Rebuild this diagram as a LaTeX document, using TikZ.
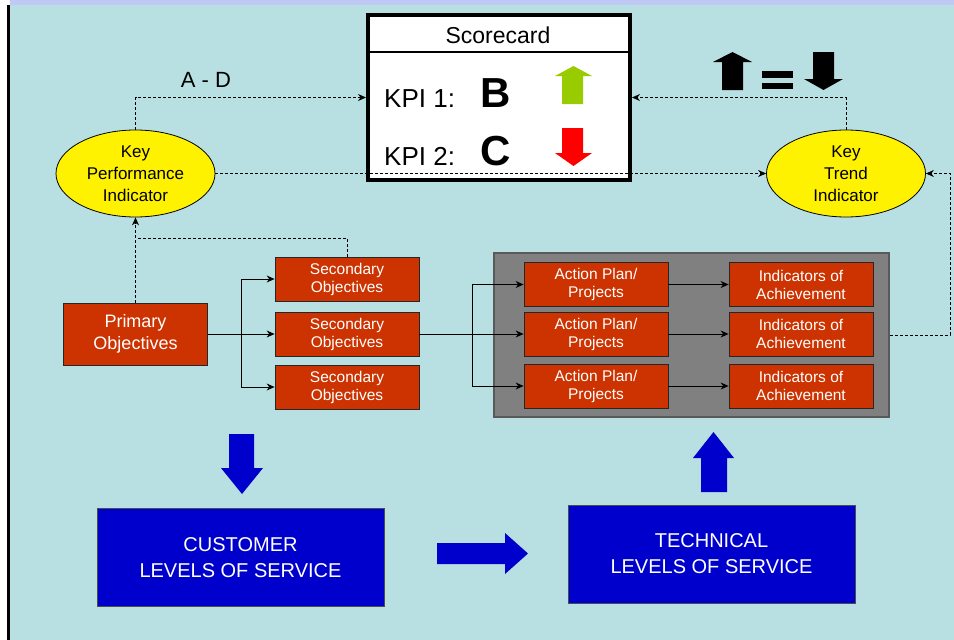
\documentclass[tikz,border=0pt]{standalone}
\usepackage{fontspec}
\setmainfont{Liberation Sans}
\usetikzlibrary{shapes.geometric, arrows.meta}
\definecolor{bgblue}{HTML}{B8E0E2}
\definecolor{topband}{HTML}{C0C8F5}
\definecolor{objred}{HTML}{CC3300}
\definecolor{losblue}{HTML}{0000CC}
\definecolor{upgreen}{HTML}{99CC00}
\definecolor{plangrey}{HTML}{808080}
\begin{document}
\begin{tikzpicture}[x=1pt, y=-1pt, >={Stealth[length=8pt, width=7pt]},
    redbox/.style={draw=black!85, line width=0.8pt, fill=objred, text=white,
      minimum width=144pt, minimum height=44pt, inner sep=0pt, align=center,
      font=\fontsize{15.5}{18}\selectfont},
    bluebox/.style={draw=black!70, line width=0.8pt, fill=losblue, text=white,
      minimum width=287pt, minimum height=98pt, inner sep=0pt, align=center,
      font=\fontsize{20}{26}\selectfont},
    indic/.style={ellipse, draw=black, line width=0.8pt, fill=yellow,
      minimum width=159pt, minimum height=87pt, inner sep=0pt, align=center,
      font=\fontsize{17}{22}\selectfont},
    link/.style={densely dashed, line width=0.8pt},
    flow/.style={line width=0.8pt}]
  \useasboundingbox (0,0) rectangle (954,640);
  % Page
  \fill[bgblue] (10,5) rectangle (954,640);
  \fill[topband] (10,0) rectangle (954,5);
  \fill[black] (7,5) rectangle (10,640);
  % Scorecard
  \node[draw, line width=4pt, fill=white, minimum width=262pt, minimum height=165pt] (card) at (499,97.5) {};
  \draw[line width=1.2pt] (card.west |- 0,52) -- (card.east |- 0,52);
  \node[font=\fontsize{23}{23}\selectfont] (cardtitle) at (498,35) {Scorecard};
  \node[anchor=base west, inner sep=0pt, font=\fontsize{26}{26}\selectfont] (kpione) at (384,107) {KPI 1:};
  \node[anchor=base west, inner sep=0pt, font=\fontsize{26}{26}\selectfont] (kpitwo) at (384,165) {KPI 2:};
  \node[anchor=base, inner sep=0pt, font=\fontsize{42}{42}\bfseries] (gradeb) at (496,107) {B};
  \node[anchor=base, inner sep=0pt, font=\fontsize{42}{42}\bfseries] (gradec) at (496,165) {C};
  \fill[upgreen] (562,104) -- (562,76) -- (555,76) -- (573.5,66) -- (592,76) -- (583,76) -- (583,104) -- cycle;
  \fill[red] (562,128) -- (583,128) -- (583,153) -- (592,153) -- (573.5,166) -- (555,153) -- (562,153) -- cycle;
  % Trend symbols
  \fill[black] (722,90) -- (722,62) -- (713,62) -- (732.5,52) -- (752,62) -- (743,62) -- (743,90) -- cycle;
  \fill[black] (762,71) rectangle (793,78);
  \fill[black] (762,83) rectangle (793,89);
  \fill[black] (813,52) -- (834,52) -- (834,79) -- (843,79) -- (823.5,90) -- (804,79) -- (813,79) -- cycle;
  % Indicators
  \node[indic] (kpi) at (135.5,173.5) {Key\\Performance\\Indicator};
  \node[indic] (kti) at (846,173.5) {Key\\Trend\\Indicator};
  \node[font=\fontsize{22}{22}\selectfont] (grades) at (206,80) {A - D};
  % Objectives
  \node[redbox, minimum height=62pt, font=\fontsize{18}{22}\selectfont] (prim) at (135.5,334) {Primary\\Objectives};
  \node[redbox] (sec1) at (347,279) {Secondary\\Objectives};
  \node[redbox] (sec2) at (347,334) {Secondary\\Objectives};
  \node[redbox] (sec3) at (347,387) {Secondary\\Objectives};
  % Action plans
  \node[draw=black!65, line width=2pt, fill=plangrey, minimum width=395pt, minimum height=164pt] (plan) at (691.5,335) {};
  \foreach \i/\y in {1/284.5, 2/334, 3/386} {
    \node[redbox] (act\i) at (596,\y) {Action Plan/\\Projects};
    \node[redbox] (ach\i) at (801,\y) {Indicators of\\Achievement};
    \draw[flow, ->] (act\i) -- (ach\i);
  }
  % Solid connectors
  \coordinate (fork) at (241,334);
  \coordinate (forkb) at (472,334);
  \draw[flow] (prim) -- (fork);
  \draw[flow] (sec2) -- (forkb);
  \foreach \i in {1,2,3} {
    \draw[flow, ->] (fork) |- (sec\i.west);
    \draw[flow, ->] (forkb) |- (act\i.west);
  }
  % Dashed connectors
  \coordinate (kpijoin) at (138,238);
  \draw[link, ->] (prim) -- (kpi);
  \draw[link] (sec1.north) |- (kpijoin);
  \draw[link, ->] (kpi.north) |- (card.west);
  \draw[link, ->] (kti.north) |- (card.east);
  \draw[link, ->] (kpi.east) -- (kti.west);
  \draw[link, ->] (plan.east) -- ++(60,0) |- (kti.east);
  % Levels of service
  \node[bluebox] (cust) at (240.5,557.5) {CUSTOMER\\LEVELS OF SERVICE};
  \node[bluebox] (tech) at (711.5,554) {TECHNICAL\\LEVELS OF SERVICE};
  \fill[losblue] (229,434) -- (254,434) -- (254,468) -- (263,468) -- (242,494) -- (221,468) -- (229,468) -- cycle;
  \fill[losblue] (437,543) -- (505,543) -- (505,533) -- (528,553.5) -- (505,574) -- (505,564) -- (437,564) -- cycle;
  \fill[losblue] (701,492) -- (701,458) -- (693,458) -- (713.5,432) -- (734,458) -- (727,458) -- (727,492) -- cycle;
\end{tikzpicture}
\end{document}
